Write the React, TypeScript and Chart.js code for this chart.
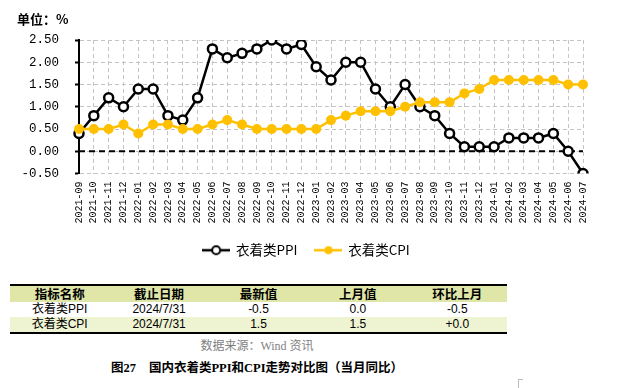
import React, { useEffect, useRef } from 'react';
import { Chart, registerables } from 'chart.js';

Chart.register(...registerables);

const categories = [
  '2021-09', '2021-10', '2021-11', '2021-12',
  '2022-01', '2022-02', '2022-03', '2022-04', '2022-05', '2022-06',
  '2022-07', '2022-08', '2022-09', '2022-10', '2022-11', '2022-12',
  '2023-01', '2023-02', '2023-03', '2023-04', '2023-05', '2023-06',
  '2023-07', '2023-08', '2023-09', '2023-10', '2023-11', '2023-12',
  '2024-01', '2024-02', '2024-03', '2024-04', '2024-05', '2024-06', '2024-07',
];

const ppiValues = [
  0.4, 0.8, 1.2, 1.0,
  1.4, 1.4, 0.8, 0.7, 1.2, 2.3,
  2.1, 2.2, 2.3, 2.5, 2.3, 2.4,
  1.9, 1.6, 2.0, 2.0, 1.4, 1.0,
  1.5, 1.0, 0.8, 0.4, 0.1, 0.1,
  0.1, 0.3, 0.3, 0.3, 0.4, 0.0, -0.5,
];

const cpiValues = [
  0.5, 0.5, 0.5, 0.6,
  0.4, 0.6, 0.6, 0.5, 0.5, 0.6,
  0.7, 0.6, 0.5, 0.5, 0.5, 0.5,
  0.5, 0.7, 0.8, 0.9, 0.9, 0.9,
  1.0, 1.1, 1.1, 1.1, 1.3, 1.4,
  1.6, 1.6, 1.6, 1.6, 1.6, 1.5, 1.5,
];

const seriesNames = ['衣着类PPI', '衣着类CPI'];
const yMin = -0.5;
const yMax = 2.5;
const yStep = 0.5;

const unitLabel = '单位：%';
const tableHeader = ['指标名称', '截止日期', '最新值', '上月值', '环比上月'];
const tableRowPPI = ['衣着类PPI', '2024/7/31', '-0.5', '0.0', '-0.5'];
const tableRowCPI = ['衣着类CPI', '2024/7/31', '1.5', '1.5', '+0.0'];
const sourceText = '数据来源：Wind 资讯';
const captionNum = '图27';
const captionText = '国内衣着类PPI和CPI走势对比图（当月同比）';

const PPI_COLOR = '#000000';
const CPI_COLOR = '#FFC000';

function makeLegendIcon(lineColor: string, fill: string, stroke: string, strokeW: number) {
  const c = document.createElement('canvas');
  c.width = 28;
  c.height = 12;
  const ctx = c.getContext('2d')!;
  ctx.strokeStyle = lineColor;
  ctx.lineWidth = 2.5;
  ctx.beginPath();
  ctx.moveTo(0, 6);
  ctx.lineTo(28, 6);
  ctx.stroke();
  ctx.beginPath();
  ctx.arc(14, 6, 4, 0, Math.PI * 2);
  ctx.fillStyle = fill;
  ctx.fill();
  if (strokeW > 0) {
    ctx.lineWidth = strokeW;
    ctx.strokeStyle = stroke;
    ctx.stroke();
  }
  return c;
}

const zeroLinePlugin = {
  id: 'zeroLine',
  beforeDatasetsDraw(chart: any) {
    const { ctx, chartArea, scales } = chart;
    const yp = scales.y.getPixelForValue(0);
    ctx.save();
    ctx.strokeStyle = '#000';
    ctx.lineWidth = 2;
    ctx.setLineDash([6, 4]);
    ctx.beginPath();
    ctx.moveTo(chartArea.left, yp);
    ctx.lineTo(chartArea.right, yp);
    ctx.stroke();
    ctx.restore();
  },
};

// shift the legend box so it is centred on the page rather than on the padded area
const legendShiftPlugin = {
  id: 'legendShift',
  afterLayout(chart: any) {
    const lg = chart.legend;
    if (lg) {
      lg.left += 15;
      lg.right += 15;
    }
  },
};

function ChartCanvas() {
  const ref = useRef<HTMLCanvasElement | null>(null);
  useEffect(() => {
    if (!ref.current) return;
    const icons = [
      makeLegendIcon(PPI_COLOR, '#ffffff', PPI_COLOR, 2),
      makeLegendIcon(CPI_COLOR, CPI_COLOR, CPI_COLOR, 0),
    ];
    const chart = new Chart(ref.current, {
      type: 'line',
      data: {
        labels: categories,
        datasets: [
          {
            label: seriesNames[0],
            data: ppiValues,
            borderColor: PPI_COLOR,
            backgroundColor: '#ffffff',
            borderWidth: 2.5,
            pointRadius: 4.5,
            pointBorderWidth: 2.5,
            pointBackgroundColor: '#ffffff',
            pointBorderColor: PPI_COLOR,
            tension: 0,
            order: 2,
          },
          {
            label: seriesNames[1],
            data: cpiValues,
            borderColor: CPI_COLOR,
            backgroundColor: CPI_COLOR,
            borderWidth: 2.5,
            pointRadius: 5,
            pointBorderWidth: 0,
            pointBackgroundColor: CPI_COLOR,
            pointBorderColor: CPI_COLOR,
            tension: 0,
            order: 1,
          },
        ],
      },
      options: {
        animation: false,
        responsive: false,
        maintainAspectRatio: false,
        layout: { padding: { top: 40, right: 36, left: 0, bottom: 0 } },
        plugins: {
          tooltip: { enabled: false },
          title: { display: false },
          legend: {
            position: 'bottom',
            labels: {
              usePointStyle: true,
              pointStyleWidth: 26,
              boxHeight: 12,
              padding: 18,
              color: '#000',
              font: { family: "'Noto Sans CJK SC', sans-serif", size: 13.5 },
              generateLabels: (c: any) => {
                const items = (Chart.defaults.plugins.legend.labels as any).generateLabels(c);
                items.forEach((it: any) => {
                  it.pointStyle = icons[it.datasetIndex];
                });
                return items;
              },
              sort: (a: any, b: any) => a.datasetIndex - b.datasetIndex,
            },
          },
        },
        scales: {
          x: {
            offset: false,
            grid: { color: '#c4c4c4', lineWidth: 1, drawTicks: false },
            border: { display: false, dash: [4, 3] },
            ticks: {
              autoSkip: false,
              maxRotation: 90,
              minRotation: 90,
              padding: 8,
              color: '#000',
              font: { family: "'Liberation Mono', monospace", size: 10 },
            },
            afterFit: (s: any) => {
              s.height = 52;
            },
          },
          y: {
            min: yMin,
            max: yMax,
            ticks: {
              stepSize: yStep,
              padding: 16,
              color: '#000',
              font: { family: "'Liberation Mono', monospace", size: 12.5 },
              callback: (v: any) => Number(v).toFixed(2),
            },
            grid: {
              color: '#c4c4c4',
              lineWidth: 1,
              tickColor: '#000',
              tickLength: 4,
              tickWidth: 2,
              tickBorderDash: [],
            },
            border: { display: true, color: '#000', width: 2, dash: [4, 3] },
            afterFit: (s: any) => {
              s.width = 79;
            },
          },
        },
      },
      plugins: [zeroLinePlugin, legendShiftPlugin],
    } as any);
    return () => chart.destroy();
  }, []);
  return (
    <canvas
      ref={ref}
      width={619}
      height={267}
      style={{ position: 'absolute', left: 0, top: 0, width: 619, height: 267 }}
    />
  );
}

const cellBase: React.CSSProperties = {
  textAlign: 'center',
  padding: 0,
  width: '20%',
  whiteSpace: 'nowrap',
};

export default function App() {
  return (
    <div style={{ position: 'relative', width: 619, height: 388, background: '#fff', overflow: 'hidden' }}>
      <style>{`body{margin:0;}`}</style>
      <ChartCanvas />
      <div
        style={{
          position: 'absolute',
          left: 17,
          top: 11,
          fontFamily: "'Noto Sans CJK SC', sans-serif",
          fontWeight: 700,
          fontSize: 13,
          lineHeight: '16px',
          color: '#000',
        }}
      >
        {unitLabel}
      </div>
      <table
        style={{
          position: 'absolute',
          left: 10,
          top: 284,
          width: 497,
          borderCollapse: 'collapse',
          tableLayout: 'fixed',
          borderTop: '2px solid #000',
          borderBottom: '2px solid #000',
        }}
      >
        <tbody>
          <tr style={{ height: 16, background: '#dfe6a8' }}>
            {tableHeader.map((h) => (
              <td
                key={h}
                style={{
                  ...cellBase,
                  fontFamily: "'Noto Sans CJK SC', sans-serif",
                  fontWeight: 700,
                  fontSize: 12.5,
                  lineHeight: '16px',
                  color: '#000',
                }}
              >
                {h}
              </td>
            ))}
          </tr>
          {[tableRowPPI, tableRowCPI].map((row, ri) => (
            <tr key={ri} style={{ height: 15, background: ri === 1 ? '#eef3d2' : '#ffffff' }}>
              {row.map((v, ci) => (
                <td
                  key={ci}
                  style={{
                    ...cellBase,
                    fontFamily: "'Liberation Sans', 'Noto Sans CJK SC', sans-serif",
                    fontSize: 12,
                    lineHeight: '15px',
                    color: '#000',
                  }}
                >
                  {v}
                </td>
              ))}
            </tr>
          ))}
        </tbody>
      </table>
      <div
        style={{
          position: 'absolute',
          left: 0,
          width: 514,
          top: 338,
          textAlign: 'center',
          fontFamily: "'Liberation Serif', 'Noto Sans CJK SC', serif",
          fontSize: 12,
          lineHeight: '16px',
          color: '#7f7f7f',
        }}
      >
        {sourceText}
      </div>
      <div
        style={{
          position: 'absolute',
          left: 0,
          width: 514,
          top: 360,
          textAlign: 'center',
          fontFamily: "'Liberation Serif', 'Noto Sans CJK SC', serif",
          fontWeight: 700,
          fontSize: 12.5,
          lineHeight: '16px',
          color: '#000',
        }}
      >
        <span style={{ marginRight: 13 }}>{captionNum}</span>
        {captionText}
      </div>
      <div style={{ position: 'absolute', left: 518, top: 379, width: 4, height: 9, borderLeft: '1px solid #bbb', borderTop: '1px solid #bbb' }} />
    </div>
  );
}
